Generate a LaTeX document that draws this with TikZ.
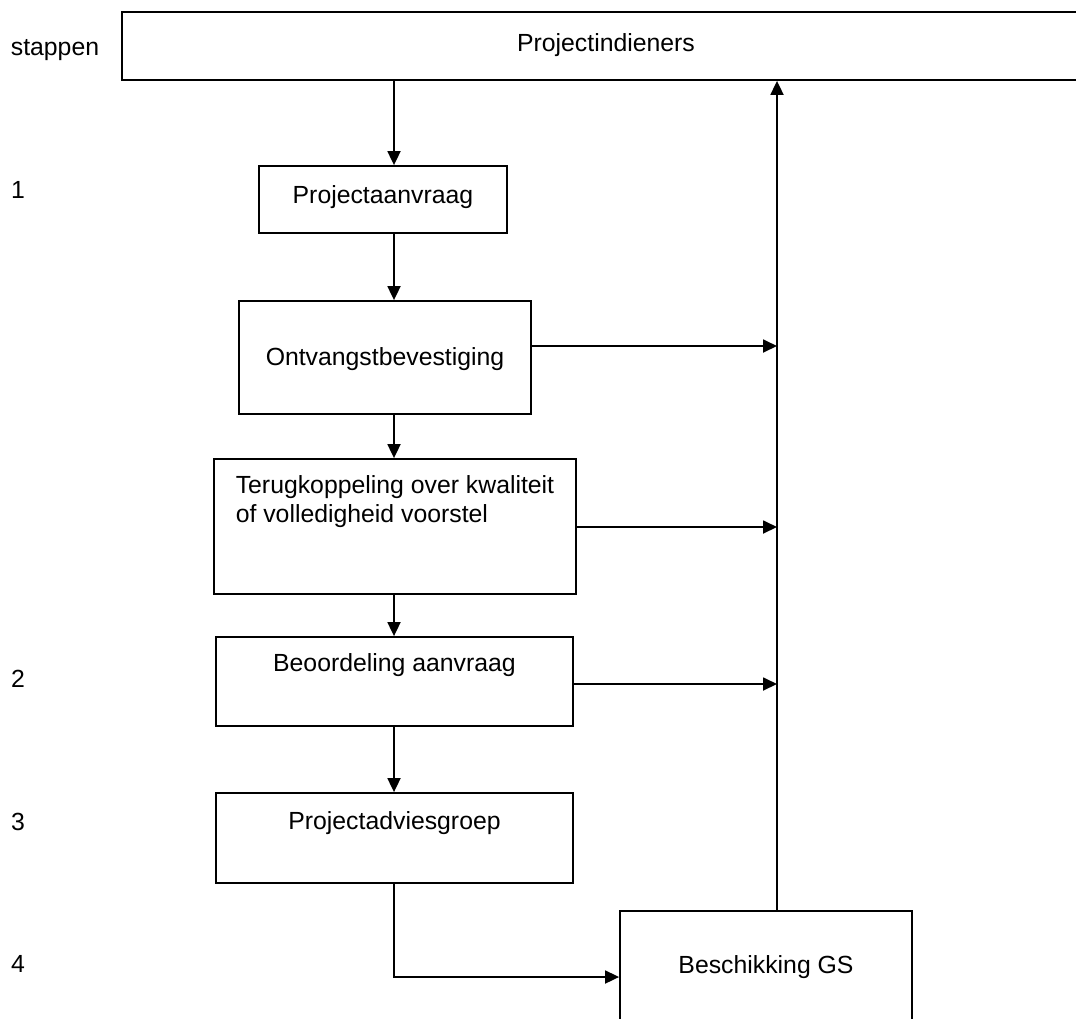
\documentclass[tikz,border=0pt]{standalone}
\usepackage{fontspec}
\setmainfont{Liberation Sans}
\usepackage{tikz}
\usetikzlibrary{arrows.meta}
\usetikzlibrary{calc}
\newcommand\boxfont{\fontsize{12.4}{14.5}\selectfont}
\tikzstyle{stepbox}=[draw,line width=.9pt,font=\boxfont,text height=9pt]
\tikzstyle{steplabel}=[font=\boxfont,anchor=base,inner sep=0pt]
\tikzstyle{flowhead}=[>/.tip={Triangle[length=7pt,width=6.5pt]}]
\tikzstyle{flow}=[line width=.9pt,flowhead,->]

\begin{document}
\begin{tikzpicture}[x=.5pt,y=-.5pt]
				\useasboundingbox (0,0) rectangle (1076,1018);
				\coordinate (spine) at (394,0);
				\coordinate (rail) at (777,0);
				% boxes
				\node[stepbox,minimum width=484pt,minimum height=34pt,text depth=4pt] (indieners) at (606,46) {Projectindieners};
				\node[stepbox,minimum width=124pt,minimum height=33.5pt,text depth=5.5pt] (aanvraag) at (383,199.5) {Projectaanvraag};
				\node[stepbox,minimum width=146pt,minimum height=56.5pt,text depth=1.5pt] (ontvangst) at (385,357.5) {Ontvangstbevestiging};
				\node[stepbox,minimum width=181pt,minimum height=67.5pt,text depth=13.5pt,align=left] (terug) at (395,526.5) {Terugkoppeling over kwaliteit\\of volledigheid voorstel};
				\node[stepbox,minimum width=178.5pt,minimum height=44.5pt,text depth=19.5pt] (beoord) at (394.5,681.5) {Beoordeling aanvraag};
				\node[stepbox,minimum width=178.5pt,minimum height=45pt,text depth=18pt] (advies) at (394.5,838) {Projectadviesgroep};
				\node[stepbox,minimum width=146pt,minimum height=59.5pt,text depth=6.5pt] (beschikking) at (766,970.5) {Beschikking GS};
				% stappen
				\node[steplabel] (stappen) at (55,55) {stappen};
				\node[steplabel] (stap1) at (18,198) {1};
				\node[steplabel] (stap2) at (18,687) {2};
				\node[steplabel] (stap3) at (18,830) {3};
				\node[steplabel] (stap4) at (18,972) {4};
				% arrows
				\draw[flow] (indieners.south -| spine) -- (aanvraag.north -| spine);
				\draw[flow] (aanvraag.south -| spine) -- (ontvangst.north -| spine);
				\draw[flow] (ontvangst.south -| spine) -- (terug.north -| spine);
				\draw[flow] (terug.south -| spine) -- (beoord.north -| spine);
				\draw[flow] (beoord.south -| spine) -- (advies.north -| spine);
				\draw[flow] (advies.south -| spine) |- ([yshift=-3.25pt]beschikking.west);
				\draw[flow] (beschikking.north -| rail) -- (indieners.south -| rail);
				\draw[flow] ([yshift=5.75pt]ontvangst.east) -- ([yshift=5.75pt]ontvangst.east -| rail);
				\draw[flow] ([yshift=-.25pt]terug.east) -- ([yshift=-.25pt]terug.east -| rail);
				\draw[flow] ([yshift=-1.25pt]beoord.east) -- ([yshift=-1.25pt]beoord.east -| rail);
\end{tikzpicture}
\end{document}
